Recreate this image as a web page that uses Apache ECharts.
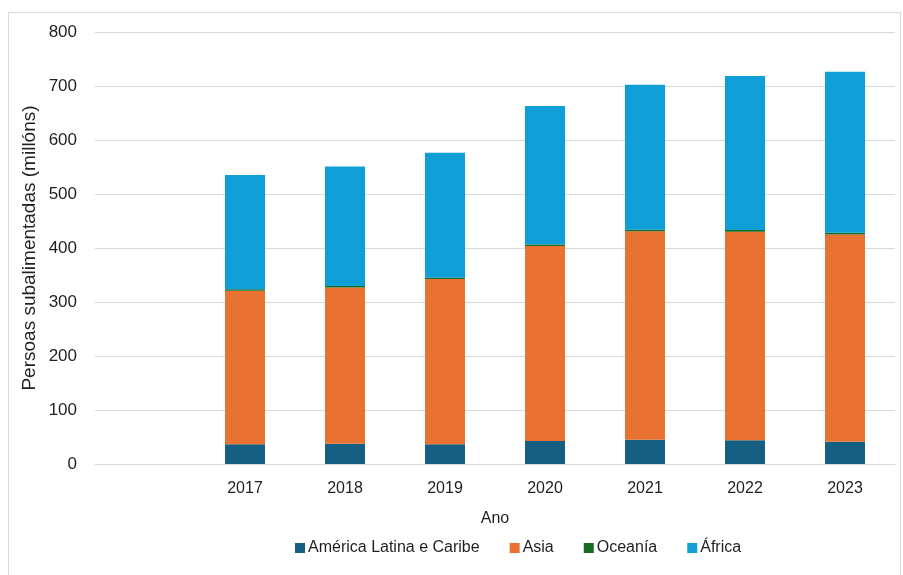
<!DOCTYPE html>
<html>
<head>
<meta charset="utf-8">
<script src="https://cdn.jsdelivr.net/npm/echarts@6/dist/echarts.min.js"></script>
<style>
html,body{margin:0;padding:0;background:#fff;}
#frame{position:absolute;left:8px;top:12px;width:893px;height:570px;border:1px solid #d9d9d9;box-sizing:border-box;}
#chart{position:absolute;left:0;top:0;width:903px;height:575px;}
</style>
</head>
<body>
<div id="frame"></div>
<div id="chart"></div>
<script>
const categories = ["", "2017", "2018", "2019", "2020", "2021", "2022", "2023"];
const latinAmerica = [null, 36.5, 37.6, 36.5, 42.6, 45.0, 43.8, 41.3];
const asia = [null, 284.5, 289.4, 306.1, 361.1, 386.0, 386.2, 383.7];
const oceania = [null, 2.5, 2.5, 2.5, 2.8, 3.0, 3.2, 3.3];
const africa = [null, 211.5, 221.5, 231.4, 256.5, 268.5, 285.3, 298.2];
const yTicks = [0, 100, 200, 300, 400, 500, 600, 700, 800];
const seriesNames = ["América Latina e Caribe", "Asia", "Oceanía", "África"];
const colors = ["#156082", "#E97132", "#196B24", "#0F9ED5"];

const chart = echarts.init(document.getElementById('chart'));
const dataSets = [latinAmerica, asia, oceania, africa];
const font = "'Liberation Sans', Arial, sans-serif";
const textColor = '#1f1f1f';
chart.setOption({
  animation: false,
  color: colors,
  grid: {left: 95, right: 8, top: 32, bottom: 111, containLabel: false},
  legend: {
    data: seriesNames,
    top: 535,
    left: 290,
    itemWidth: 10,
    itemHeight: 10,
    itemGap: 30,
    icon: 'rect',
    textStyle: {fontFamily: font, fontSize: 16, color: textColor, padding: [0,0,0,-2]}
  },
  xAxis: {
    type: 'category',
    data: categories,
    name: 'Ano',
    nameLocation: 'middle',
    nameGap: 47,
    nameTextStyle: {fontFamily: font, fontSize: 16, color: textColor},
    axisTick: {show: false},
    axisLine: {lineStyle: {color: '#d9d9d9', width: 1}},
    axisLabel: {fontFamily: font, fontSize: 16, color: textColor, margin: 17}
  },
  yAxis: {
    type: 'value',
    min: yTicks[0],
    max: yTicks[yTicks.length - 1],
    interval: 100,
    name: 'Persoas subalimentadas (millóns)',
    nameLocation: 'middle',
    nameGap: 56,
    nameMoveOverlap: false,
    nameTextStyle: {fontFamily: font, fontSize: 19, color: textColor},
    axisLine: {show: false},
    axisTick: {show: false},
    splitLine: {lineStyle: {color: '#d9d9d9', width: 1}},
    axisLabel: {fontFamily: font, fontSize: 17, color: textColor, margin: 18}
  },
  series: seriesNames.map((name, i) => ({
    name: name,
    type: 'bar',
    stack: 'total',
    barWidth: 40,
    data: dataSets[i],
    itemStyle: {color: colors[i]}
  }))
});
</script>
</body>
</html>
